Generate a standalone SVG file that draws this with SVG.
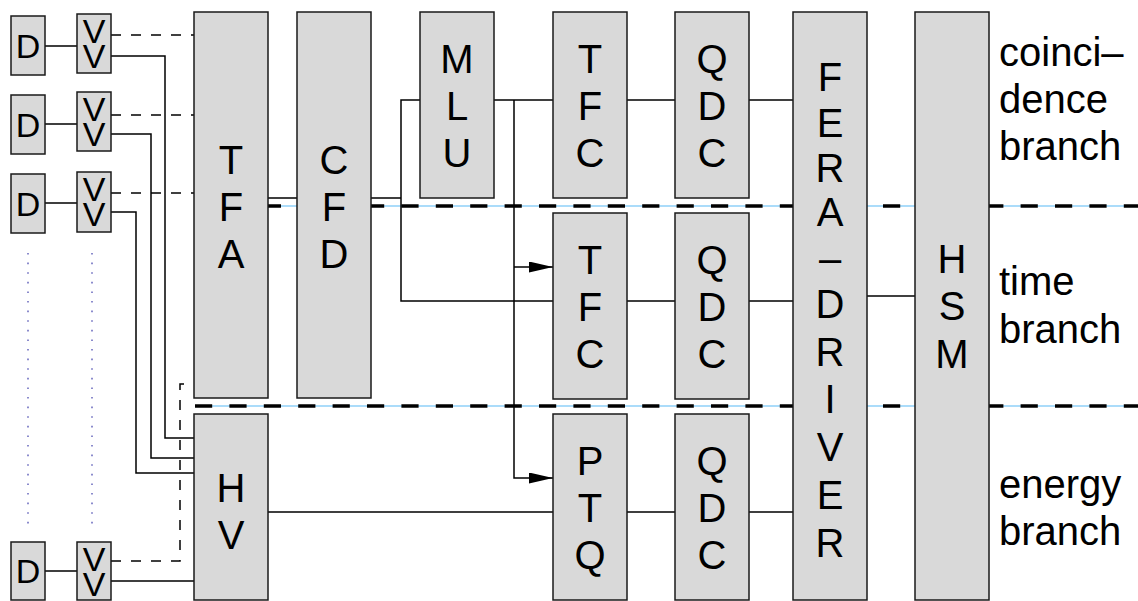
<svg xmlns="http://www.w3.org/2000/svg" width="1138" height="601" viewBox="0 0 1138 601">
<style>
.box{fill:#d9d9d9;stroke:#1a1a1a;stroke-width:1.5}
.t{font-family:"Liberation Sans",Arial,sans-serif;font-size:40px;text-anchor:middle;fill:#000}
.s{font-size:34px}
.lab{font-family:"Liberation Sans",Arial,sans-serif;font-size:40px;fill:#000}
.w{fill:none;stroke:#000;stroke-width:1.5}
.d{stroke-dasharray:10 10}
.sep{fill:none;stroke:#000;stroke-width:3.5;stroke-dasharray:17.2 17.2}
.sepb{fill:none;stroke:#8fd0f8;stroke-width:1.3}
.dot{fill:none;stroke:#6f6fc0;stroke-width:1.6;stroke-dasharray:1.6 8}
</style>
<defs>
<marker id="arr" markerUnits="userSpaceOnUse" markerWidth="24" markerHeight="12" refX="24" refY="5.5" orient="auto">
<path d="M0,0 L24,5.5 L0,11 z" fill="#000"/>
</marker>
</defs>
<rect width="1138" height="601" fill="#fff"/>
<g id="separators">
<line class="sepb" x1="195" y1="206" x2="1138" y2="206"/>
<line class="sep" x1="195" y1="206" x2="1138" y2="206"/>
<line class="sepb" x1="195" y1="406" x2="1138" y2="406"/>
<line class="sep" x1="195" y1="406" x2="1138" y2="406"/>
</g>
<g id="dots">
<line class="dot" x1="28" y1="253" x2="28" y2="524"/>
<line class="dot" x1="92" y1="253" x2="92" y2="524"/>
</g>
<g id="connectors">
<path class="w" d="M45,46 H77 M45,124 H77 M45,203 H77 M45,571 H77"/>
<path class="w d" d="M111,35 H195 M111,115 H195 M111,193 H195"/>
<path class="w d" d="M111,561 H180 V384 H194"/>
<path class="w" d="M111,56 H165 V438 H194 M111,134 H151 V458 H194 M111,212 H136 V473 H194 M111,581 H194"/>
<path class="w" d="M268,198 H297 M371,198 H401 M420,100 H401 V301 H553"/>
<path class="w" d="M494,100 H553 M627,100 H675 M749,100 H793"/>
<path class="w" d="M627,301 H675 M749,301 H793"/>
<path class="w" d="M268,512 H553 M627,512 H675 M749,512 H793"/>
<path class="w" d="M867,296 H915"/>
<path class="w" d="M514,100 V478 H553" marker-end="url(#arr)"/>
<path class="w" d="M514,267 H553" marker-end="url(#arr)"/>
</g>
<g id="d1"><rect class="box" x="11" y="16" width="34" height="59"/><text class="t s" x="28" y="58">D</text></g>
<g id="d2"><rect class="box" x="11" y="95" width="34" height="59"/><text class="t s" x="28" y="137">D</text></g>
<g id="d3"><rect class="box" x="11" y="174" width="34" height="59"/><text class="t s" x="28" y="216">D</text></g>
<g id="d4"><rect class="box" x="11" y="542" width="34" height="58"/><text class="t s" x="28" y="583">D</text></g>
<g id="v1"><rect class="box" x="77" y="14" width="34" height="59"/><text class="t s" x="94"><tspan x="94" y="43">V</tspan><tspan x="94" y="68">V</tspan></text></g>
<g id="v2"><rect class="box" x="77" y="92" width="34" height="59"/><text class="t s" x="94"><tspan x="94" y="121">V</tspan><tspan x="94" y="146">V</tspan></text></g>
<g id="v3"><rect class="box" x="77" y="172" width="34" height="60"/><text class="t s" x="94"><tspan x="94" y="201">V</tspan><tspan x="94" y="226">V</tspan></text></g>
<g id="v4"><rect class="box" x="77" y="542" width="34" height="58"/><text class="t s" x="94"><tspan x="94" y="571">V</tspan><tspan x="94" y="596">V</tspan></text></g>
<g id="tfa"><rect class="box" x="194" y="12" width="74" height="386"/><text class="t"><tspan x="231" y="174">T</tspan><tspan x="231" y="221">F</tspan><tspan x="231" y="268">A</tspan></text></g>
<g id="hv"><rect class="box" x="194" y="414" width="74" height="186"/><text class="t"><tspan x="231" y="502">H</tspan><tspan x="231" y="549">V</tspan></text></g>
<g id="cfd"><rect class="box" x="297" y="12" width="74" height="386"/><text class="t"><tspan x="334" y="174">C</tspan><tspan x="334" y="221">F</tspan><tspan x="334" y="268">D</tspan></text></g>
<g id="mlu"><rect class="box" x="420" y="12" width="74" height="186"/><text class="t"><tspan x="457" y="73">M</tspan><tspan x="457" y="120">L</tspan><tspan x="457" y="167">U</tspan></text></g>
<g id="tfc1"><rect class="box" x="553" y="12" width="74" height="186"/><text class="t"><tspan x="590" y="73">T</tspan><tspan x="590" y="120">F</tspan><tspan x="590" y="167">C</tspan></text></g>
<g id="qdc1"><rect class="box" x="675" y="12" width="74" height="186"/><text class="t"><tspan x="712" y="73">Q</tspan><tspan x="712" y="120">D</tspan><tspan x="712" y="167">C</tspan></text></g>
<g id="tfc2"><rect class="box" x="553" y="213" width="74" height="186"/><text class="t"><tspan x="590" y="274">T</tspan><tspan x="590" y="321">F</tspan><tspan x="590" y="368">C</tspan></text></g>
<g id="qdc2"><rect class="box" x="675" y="213" width="74" height="186"/><text class="t"><tspan x="712" y="274">Q</tspan><tspan x="712" y="321">D</tspan><tspan x="712" y="368">C</tspan></text></g>
<g id="ptq"><rect class="box" x="553" y="414" width="74" height="186"/><text class="t"><tspan x="590" y="475">P</tspan><tspan x="590" y="522">T</tspan><tspan x="590" y="569">Q</tspan></text></g>
<g id="qdc3"><rect class="box" x="675" y="414" width="74" height="186"/><text class="t"><tspan x="712" y="475">Q</tspan><tspan x="712" y="522">D</tspan><tspan x="712" y="569">C</tspan></text></g>
<g id="fera"><rect class="box" x="793" y="12" width="74" height="588"/><text class="t"><tspan x="830" y="91">F</tspan><tspan x="830" y="137">E</tspan><tspan x="830" y="182">R</tspan><tspan x="830" y="226">A</tspan><tspan x="830" y="272">–</tspan><tspan x="830" y="318">D</tspan><tspan x="830" y="366">R</tspan><tspan x="830" y="413">I</tspan><tspan x="830" y="461">V</tspan><tspan x="830" y="509">E</tspan><tspan x="830" y="557">R</tspan></text></g>
<g id="hsm"><rect class="box" x="915" y="12" width="74" height="588"/><text class="t"><tspan x="952" y="273">H</tspan><tspan x="952" y="320">S</tspan><tspan x="952" y="368">M</tspan></text></g>
<g id="labels">
<text class="lab"><tspan x="999" y="66">coinci–</tspan><tspan x="999" y="113">dence</tspan><tspan x="999" y="160">branch</tspan></text>
<text class="lab"><tspan x="999" y="295">time</tspan><tspan x="999" y="343">branch</tspan></text>
<text class="lab"><tspan x="999" y="498">energy</tspan><tspan x="999" y="545">branch</tspan></text>
</g>
</svg>
